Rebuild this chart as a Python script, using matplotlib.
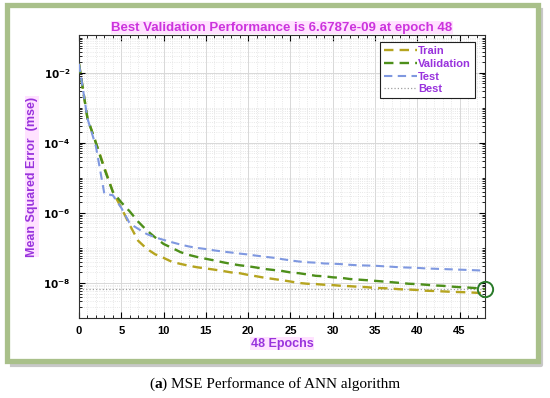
"""
MSE performance of the ANN training (train / validation / test) on a log scale.
"""
import numpy as np
from matplotlib import pyplot as plt
from matplotlib import ticker
from matplotlib.lines import Line2D
from matplotlib.offsetbox import AnnotationBbox, HPacker, TextArea
from matplotlib.patches import Rectangle

epochs = np.arange(0, 49)

train_mse = [1.8e-2, 5.0e-4, 1.0e-4, 2.0e-5, 4.0e-6, 1.4e-6, 4.5e-7, 1.6e-7, 9.5e-8, 6.6e-8,
             5.2e-8, 4.0e-8, 3.5e-8, 3.1e-8, 2.8e-8, 2.6e-8, 2.4e-8, 2.2e-8, 2.0e-8, 1.9e-8,
             1.7e-8, 1.55e-8, 1.4e-8, 1.3e-8, 1.2e-8, 1.1e-8, 1.0e-8, 9.5e-9, 9.3e-9, 8.9e-9,
             8.7e-9, 8.3e-9, 8.1e-9, 7.8e-9, 7.6e-9, 7.2e-9, 7.1e-9, 6.9e-9, 6.6e-9, 6.5e-9,
             6.3e-9, 6.0e-9, 5.9e-9, 5.75e-9, 5.6e-9, 5.5e-9, 5.4e-9, 5.25e-9, 5.1e-9]

val_mse = [1.8e-2, 5.0e-4, 1.0e-4, 1.8e-5, 4.0e-6, 2.0e-6, 1.1e-6, 5.6e-7, 3.2e-7, 2.0e-7,
           1.3e-7, 1.0e-7, 7.6e-8, 6.3e-8, 5.5e-8, 4.9e-8, 4.4e-8, 3.9e-8, 3.5e-8, 3.2e-8,
           3.0e-8, 2.75e-8, 2.5e-8, 2.35e-8, 2.2e-8, 2.0e-8, 1.9e-8, 1.75e-8, 1.6e-8, 1.55e-8,
           1.45e-8, 1.4e-8, 1.3e-8, 1.25e-8, 1.2e-8, 1.15e-8, 1.1e-8, 1.05e-8, 1.0e-8, 9.5e-9,
           9.3e-9, 8.9e-9, 8.5e-9, 8.3e-9, 7.9e-9, 7.6e-9, 7.4e-9, 7.1e-9, 6.6787e-9]

test_mse = [1.8e-2, 5.0e-4, 7.9e-5, 3.5e-6, 3.2e-6, 1.4e-6, 5.0e-7, 3.5e-7, 2.5e-7, 2.0e-7,
            1.7e-7, 1.45e-7, 1.25e-7, 1.1e-7, 1.0e-7, 9.3e-8, 8.5e-8, 7.9e-8, 7.4e-8, 6.9e-8,
            6.5e-8, 6.0e-8, 5.6e-8, 5.25e-8, 4.8e-8, 4.4e-8, 4.1e-8, 3.9e-8, 3.8e-8, 3.6e-8,
            3.55e-8, 3.45e-8, 3.3e-8, 3.2e-8, 3.15e-8, 3.1e-8, 3.0e-8, 2.9e-8, 2.8e-8, 2.75e-8,
            2.7e-8, 2.6e-8, 2.55e-8, 2.5e-8, 2.45e-8, 2.4e-8, 2.35e-8, 2.3e-8, 2.25e-8]

best_epoch = 48
best_perf = 6.6787e-9

TITLE_COLOR = '#cc33dd'
LABEL_COLOR = '#9933dd'
PINK_BG = '#ffe2ff'


def main():
    plt.rcParams['font.family'] = ['Liberation Sans', 'DejaVu Sans']
    fig = plt.figure(figsize=(5.5, 3.98), dpi=100)

    # FRAME AROUND THE FIGURE PANEL (WITH A SOFT SHADOW ON THE RIGHT AND BOTTOM). #
    W, H = 550.0, 398.0
    fig.lines.append(Line2D([12 / W, 541 / W, 541 / W], [1 - 365 / H, 1 - 365 / H, 1 - 10 / H],
                            transform=fig.transFigure, color='#c8c8c8', linewidth=3.0, zorder=0))
    fig.patches.append(Rectangle((7 / W, 1 - 361 / H), 531 / W, 356 / H, transform=fig.transFigure,
                                 fill=False, edgecolor='#a9c08a', linewidth=3.8, zorder=1))

    ax = fig.add_axes([79 / W, 1 - 318 / H, 406 / W, 283 / H])

    ax.semilogy(epochs, train_mse, linestyle=(0, (4, 2.6)), color='#b5a41f', linewidth=1.7, label='Train', zorder=3)
    ax.semilogy(epochs, val_mse, linestyle=(0, (4, 2.6)), color='#4d8f1a', linewidth=1.7, label='Validation', zorder=3)
    ax.semilogy(epochs, test_mse, linestyle=(0, (4, 2.6)), color='#7f98e0', linewidth=1.5, label='Test', zorder=3)
    ax.axhline(best_perf, linestyle=':', color='#a0a0a0', linewidth=0.9, label='Best', zorder=2)
    ax.plot([best_epoch], [best_perf], 'o', markersize=11, markerfacecolor='none',
            markeredgecolor='#2a7a2a', markeredgewidth=1.4, clip_on=False, zorder=4)

    ax.set_xlim(0, 48)
    ax.set_ylim(1e-9, 1.2e-1)
    ax.set_xticks(np.arange(0, 46, 5))
    ax.xaxis.set_minor_locator(ticker.MultipleLocator(1))
    ax.yaxis.set_major_locator(ticker.FixedLocator([1e-8, 1e-6, 1e-4, 1e-2]))
    ax.yaxis.set_major_formatter(ticker.FuncFormatter(
        lambda v, pos: r'$\mathbf{10^{%d}}$' % round(np.log10(v))))
    ax.yaxis.set_minor_locator(ticker.LogLocator(base=10, subs=np.arange(1, 10), numticks=40))
    ax.yaxis.set_minor_formatter(ticker.NullFormatter())

    ax.tick_params(which='both', direction='in', top=True, right=True)
    ax.tick_params(which='major', length=4, labelsize=8, pad=6)
    ax.tick_params(axis='y', which='major', labelsize=7.5)
    ax.tick_params(which='minor', length=2)
    for label in ax.get_xticklabels():
        label.set_fontweight('bold')

    ax.grid(which='major', color='#d8d8d8', linewidth=0.7)
    ax.grid(which='minor', color='#e0e0e0', linestyle=':', linewidth=0.6)
    for spine in ax.spines.values():
        spine.set_color('#303030')
        spine.set_linewidth(0.8)

    ax.set_title('Best Validation Performance is 6.6787e-09 at epoch 48', color=TITLE_COLOR,
                 fontsize=9.5, fontweight='bold', pad=3,
                 bbox=dict(facecolor=PINK_BG, edgecolor='none', pad=0.5))
    ax.set_xlabel('48 Epochs', color=LABEL_COLOR, fontsize=9, fontweight='bold', labelpad=1,
                  bbox=dict(facecolor=PINK_BG, edgecolor='none', pad=0.5))
    ax.set_ylabel('Mean Squared Error  (mse)', color=LABEL_COLOR, fontsize=9, fontweight='bold', labelpad=4,
                  bbox=dict(facecolor=PINK_BG, edgecolor='none', pad=0.5))

    legend = ax.legend(loc='upper right', bbox_to_anchor=(0.975, 0.975), borderaxespad=0, fancybox=False,
                       framealpha=1, edgecolor='#202020', handlelength=3.0, handletextpad=0.1,
                       borderpad=0.35, labelspacing=0.25, prop={'weight': 'bold', 'size': 8})
    legend.get_frame().set_linewidth(0.8)
    for text in legend.get_texts():
        text.set_color(LABEL_COLOR)

    # CAPTION WITH A BOLD PANEL LETTER. #
    serif = dict(family='Liberation Serif', size=11)
    parts = [TextArea('(', textprops=serif),
             TextArea('a', textprops=dict(serif, weight='bold')),
             TextArea(') MSE Performance of ANN algorithm', textprops=serif)]
    caption = HPacker(children=parts, align='baseline', pad=0, sep=0)
    fig.add_artist(AnnotationBbox(caption, (275 / W, 1 - 384 / H), xycoords='figure fraction',
                                  frameon=False, box_alignment=(0.5, 0.5)))

    fig.savefig('out.png', dpi=100)


if __name__ == '__main__':
    main()
